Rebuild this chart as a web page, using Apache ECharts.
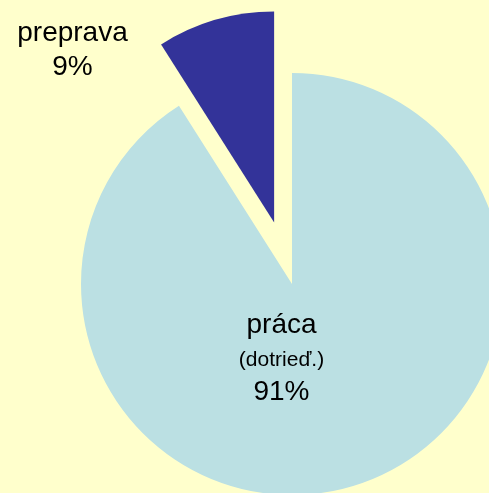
<!DOCTYPE html>
<html>
<head>
<meta charset="utf-8">
<script src="https://cdn.jsdelivr.net/npm/echarts@6/dist/echarts.min.js"></script>
<style>
html,body{margin:0;padding:0;background:#FFFFCC;}
#chart{width:489px;height:493px;}
</style>
</head>
<body>
<div id="chart"></div>
<script>
// Data
const categories = ['práca', 'preprava'];
const subLabels = ['(dotrieď.)', ''];
const values = [91, 9];
const colors = ['#BBE0E3', '#333399'];
const explodedIndex = 1;

const pieCenter = [292, 284];
const pieRadius = 211;
const explodeOffset = 64;
const labelPos = [
  {x: 281.5, y: 356.5},
  {x: 72.5, y: 50}
];

// exploded slice center: shift along mid-angle of that slice (clockwise from top)
const total = values.reduce((a, b) => a + b, 0);
let before = 0;
for (let i = 0; i < explodedIndex; i++) before += values[i];
const midFrac = (before + values[explodedIndex] / 2) / total;
const midAng = midFrac * 2 * Math.PI;
const explodedCenter = [
  pieCenter[0] + explodeOffset * Math.sin(midAng),
  pieCenter[1] - explodeOffset * Math.cos(midAng)
];

const chart = echarts.init(document.getElementById('chart'), null, {renderer: 'canvas'});

function makeData(visibleFn) {
  return categories.map((c, i) => {
    const vis = visibleFn(i);
    return {
      name: c,
      value: values[i],
      itemStyle: {color: colors[i], opacity: vis ? 1 : 0},
      label: {
        show: vis,
        formatter: subLabels[i]
          ? '{t|' + c + '}\n{m|' + subLabels[i] + '}\n{p|' + values[i] + '%}'
          : '{a|' + c + '}\n{a|' + values[i] + '%}'
      }
    };
  });
}

const richStyles = {
  t: {fontSize: 28, lineHeight: 38, color: '#000', fontFamily: 'Liberation Sans'},
  m: {fontSize: 21, lineHeight: 33, color: '#000', fontFamily: 'Liberation Sans'},
  p: {fontSize: 28, lineHeight: 30, color: '#000', fontFamily: 'Liberation Sans'},
  a: {fontSize: 28, lineHeight: 34, color: '#000', fontFamily: 'Liberation Sans'}
};

function makeSeries(center, visibleFn) {
  return {
    type: 'pie',
    center: center,
    radius: pieRadius,
    startAngle: 90,
    clockwise: true,
    silent: true,
    avoidLabelOverlap: false,
    itemStyle: {borderWidth: 0},
    label: {
      show: true,
      position: 'inside',
      fontFamily: 'Liberation Sans, Arial, sans-serif',
      color: '#000',
      rich: richStyles
    },
    labelLine: {show: false},
    labelLayout: function (params) {
      const p = labelPos[params.dataIndex];
      return {x: p.x, y: p.y, align: 'center', verticalAlign: 'middle'};
    },
    data: makeData(visibleFn)
  };
}

chart.setOption({
  backgroundColor: '#FFFFCC',
  animation: false,
  series: [
    makeSeries(pieCenter, i => i !== explodedIndex),
    makeSeries(explodedCenter, i => i === explodedIndex)
  ]
});
</script>
</body>
</html>
